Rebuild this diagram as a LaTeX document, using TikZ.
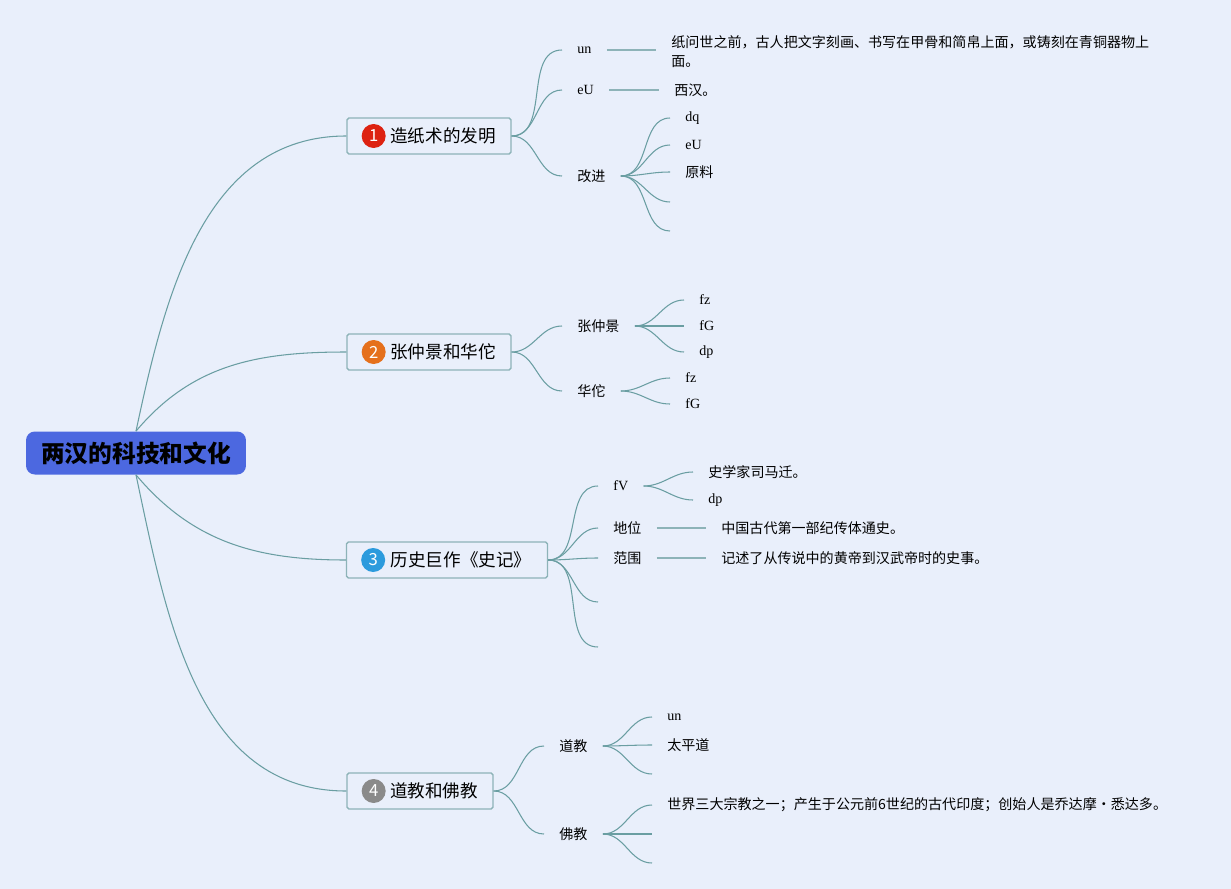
\documentclass[tikz,border=0pt]{standalone}
\usepackage{fontspec}
\setmainfont{Liberation Serif}
\newfontfamily\cjk{Noto Sans CJK SC}
\usetikzlibrary{positioning}
\definecolor{bgblue}{HTML}{E9EFFB}
\definecolor{rootblue}{HTML}{4C68E0}
\definecolor{boxedge}{HTML}{8DB3B8}
\definecolor{linkteal}{HTML}{6A9EA2}
\definecolor{numred}{HTML}{DD2211}
\definecolor{numorange}{HTML}{E5701C}
\definecolor{numblue}{HTML}{2C9BDD}
\definecolor{numgray}{HTML}{8A8A8A}

\begin{document}
\begin{tikzpicture}[x=0.02cm, y=-0.02cm,
  every node/.style={font=\fontsize{8}{10.8}\selectfont},
  root/.style={fill=rootblue, rounded corners=5pt, minimum width=4.4cm,
               minimum height=0.86cm, font=\cjk\fontsize{13.5}{16}\selectfont\bfseries},
  topic/.style={draw=boxedge, line width=0.8pt, rounded corners=1pt,
                minimum height=0.72cm, font=\cjk\fontsize{10}{12}\selectfont},
  num/.style={circle, inner sep=0pt, minimum size=0.48cm, text=white,
              font=\cjk\fontsize{9.5}{10}\selectfont},
  leaf/.style={anchor=west, inner xsep=0.3cm, inner ysep=1pt},
  zh/.style={font=\cjk\fontsize{8}{10.8}\selectfont},
  link/.style={draw=linkteal, line width=0.6pt},
  bar/.style={draw=boxedge, line width=0.9pt}]

  % ---- background ----
  \fill[bgblue] (0,0) rectangle (1231,889);

  % ---- root and main topics ----
  \node[root] (root) at (136,453) {两汉的科技和文化};

  \node[topic, minimum width=3.28cm] (b1) at (429,136) {\hspace{0.56cm}造纸术的发明};
  \node[topic, minimum width=3.28cm] (b2) at (429,352) {\hspace{0.56cm}张仲景和华佗};
  \node[topic, minimum width=4.02cm] (b3) at (447,560) {\hspace{0.56cm}历史巨作《史记》};
  \node[topic, minimum width=2.92cm] (b4) at (420,791) {\hspace{0.56cm}道教和佛教};

  \node[num, fill=numred,    right=0.3cm of b1.west] (n1) {1};
  \node[num, fill=numorange, right=0.3cm of b2.west] (n2) {2};
  \node[num, fill=numblue,   right=0.3cm of b3.west] (n3) {3};
  \node[num, fill=numgray,   right=0.3cm of b4.west] (n4) {4};

  \draw[link] (root.north) to[out=78, in=180] (b1.west);
  \draw[link] (root.north) to[out=50, in=180] (b2.west);
  \draw[link] (root.south) to[out=-50, in=180] (b3.west);
  \draw[link] (root.south) to[out=-78, in=180] (b4.west);

  % ---- 1: paper making ----
  \node[leaf] (un1) at (562,50) {un};
  \node[leaf] (eu1) at (562,90) {eU};
  \node[leaf, zh] (gj) at (562,176) {改进};
  \node[leaf, zh, align=left] (qian) at (656,51.5)
    {纸问世之前，古人把文字刻画、书写在甲骨和简帛上面，或铸刻在青铜器物上\\面。};
  \node[leaf, zh] (xh) at (659,90) {西汉。};
  \node[leaf] (dq) at (670,118) {dq};
  \node[leaf] (eu2) at (670,145) {eU};
  \node[leaf, zh] (yl) at (670,172) {原料};
  \coordinate (gj4) at (670,202);
  \coordinate (gj5) at (670,231);

  \foreach \c in {un1, eu1, gj}
    \draw[link] (b1.east) to[out=0, in=180] (\c.west);
  \draw[bar] (un1.east) -- (un1.east -| qian.west);
  \draw[bar] (eu1.east) -- (xh.west);
  \foreach \c in {dq.west, eu2.west, yl.west, gj4, gj5}
    \draw[link] (gj.east) to[out=0, in=180] (\c);

  % ---- 2: doctors ----
  \node[leaf, zh] (zzj) at (562,326) {张仲景};
  \node[leaf, zh] (ht) at (562,391) {华佗};
  \node[leaf] (fz1) at (684,300) {fz};
  \node[leaf] (fg1) at (684,326) {fG};
  \node[leaf] (dp1) at (684,352) {dp};
  \node[leaf] (fz2) at (670,378) {fz};
  \node[leaf] (fg2) at (670,404) {fG};

  \foreach \c in {zzj, ht}
    \draw[link] (b2.east) to[out=0, in=180] (\c.west);
  \foreach \c in {fz1, fg1, dp1}
    \draw[link] (zzj.east) to[out=0, in=180] (\c.west);
  \foreach \c in {fz2, fg2}
    \draw[link] (ht.east) to[out=0, in=180] (\c.west);

  % ---- 3: Shiji ----
  \node[leaf] (fv) at (598,486) {fV};
  \node[leaf, zh] (dw) at (598,528) {地位};
  \node[leaf, zh] (fw) at (598,558) {范围};
  \coordinate (sj4) at (598,602);
  \coordinate (sj5) at (598,647);
  \node[leaf, zh] (smq) at (693,472) {史学家司马迁。};
  \node[leaf] (dp3) at (693,500) {dp};
  \node[leaf, zh] (ts) at (706,528) {中国古代第一部纪传体通史。};
  \node[leaf, zh] (ss) at (706,558) {记述了从传说中的黄帝到汉武帝时的史事。};

  \foreach \c in {fv.west, dw.west, fw.west, sj4, sj5}
    \draw[link] (b3.east) to[out=0, in=180] (\c);
  \foreach \c in {smq, dp3}
    \draw[link] (fv.east) to[out=0, in=180] (\c.west);
  \draw[bar] (dw.east) -- (ts.west);
  \draw[bar] (fw.east) -- (ss.west);

  % ---- 4: religions ----
  \node[leaf, zh] (dj) at (544,746) {道教};
  \node[leaf, zh] (fj) at (544,834) {佛教};
  \node[leaf] (un4) at (652,717) {un};
  \node[leaf, zh] (tpd) at (652,745) {太平道};
  \coordinate (dj3) at (652,774);
  \node[leaf, zh] (sj) at (652,805)
    {世界三大宗教之一；产生于公元前6世纪的古代印度；创始人是乔达摩·悉达多。};
  \coordinate (fj2) at (652,834);
  \coordinate (fj3) at (652,863);

  \foreach \c in {dj, fj}
    \draw[link] (b4.east) to[out=0, in=180] (\c.west);
  \foreach \c in {un4.west, tpd.west, dj3}
    \draw[link] (dj.east) to[out=0, in=180] (\c);
  \foreach \c in {sj.west, fj2, fj3}
    \draw[link] (fj.east) to[out=0, in=180] (\c);
\end{tikzpicture}
\end{document}
